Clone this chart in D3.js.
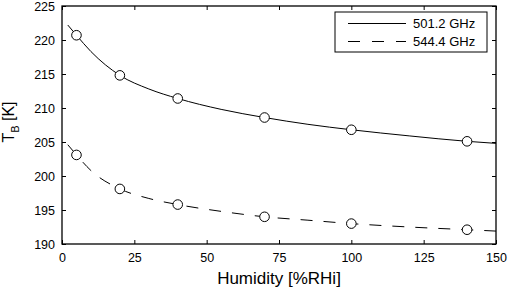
<!DOCTYPE html>
<html>
<head>
<meta charset="utf-8">
<script src="https://cdn.jsdelivr.net/npm/d3@7"></script>
<style>
    body { margin: 0; background: #fff; }
    text { font-family: "Liberation Sans", Arial, sans-serif; fill: #000; }
</style>
</head>
<body>
<svg id="chart" width="508" height="287"></svg>
<script>
'use strict';

var seriesNames = ['501.2 GHz', '544.4 GHz'];
var humidity = [5, 20, 40, 70, 100, 140];
var tb501 = [220.7, 214.8, 211.4, 208.6, 206.8, 205.1];
var tb544 = [203.1, 198.1, 195.8, 194.0, 193.0, 192.1];
// fitted curves
var fitX = [2, 5, 10, 20, 30, 40, 55, 70, 85, 100, 120, 140, 150];
var fit501 = [222.2, 220.7, 218.3, 214.8, 212.8, 211.4, 209.8, 208.6, 207.6, 206.8, 205.9, 205.1, 204.8];
var fit544 = [204.6, 203.1, 200.8, 198.1, 196.7, 195.8, 194.8, 194.0, 193.5, 193.0, 192.5, 192.1, 191.9];
var xTicks = [0, 25, 50, 75, 100, 125, 150];
var yTicks = [190, 195, 200, 205, 210, 215, 220, 225];

var svg = d3.select('#chart');
var PLOT_L = 62, PLOT_R = 496, PLOT_T = 6, PLOT_B = 244;
var TICK = 4;

var x = d3.scaleLinear().domain([0, 150]).range([PLOT_L, PLOT_R]);
var y = d3.scaleLinear().domain([190, 225]).range([PLOT_B, PLOT_T]);

// inward ticks on all four sides
function axis(gen, tx, ty, labels) {
    var g = svg.append('g').attr('transform', 'translate(' + tx + ',' + ty + ')')
        .call(gen);
    g.select('.domain').remove();
    g.selectAll('line').attr('stroke', '#000').attr('stroke-width', 1);
    if (!labels) g.selectAll('text').remove();
    else g.selectAll('text').style('font-size', '12.5px').attr('fill', '#000');
    return g;
}

axis(d3.axisBottom(x).tickValues(xTicks).tickSizeInner(-TICK).tickSizeOuter(0).tickPadding(9), 0, PLOT_B, true);
axis(d3.axisTop(x).tickValues(xTicks).tickSizeInner(-TICK).tickSizeOuter(0), 0, PLOT_T, false);
axis(d3.axisLeft(y).tickValues(yTicks).tickSizeInner(-TICK).tickSizeOuter(0).tickPadding(7), PLOT_L, 0, true);
axis(d3.axisRight(y).tickValues(yTicks).tickSizeInner(-TICK).tickSizeOuter(0), PLOT_R, 0, false);

svg.append('rect').attr('x', PLOT_L).attr('y', PLOT_T)
    .attr('width', PLOT_R - PLOT_L).attr('height', PLOT_B - PLOT_T)
    .attr('fill', 'none').attr('stroke', '#000').attr('stroke-width', 1.3);

var line = d3.line().curve(d3.curveMonotoneX)
    .x(function (d) { return x(d[0]); })
    .y(function (d) { return y(d[1]); });

var dashes = [null, '12,11'];

[fit501, fit544].forEach(function (fit, k) {
    svg.append('path').datum(d3.zip(fitX, fit)).attr('d', line)
        .attr('fill', 'none').attr('stroke', '#000').attr('stroke-width', 1)
        .attr('stroke-dasharray', dashes[k]);
});

[tb501, tb544].forEach(function (vals) {
    svg.append('g').selectAll('circle').data(d3.zip(humidity, vals)).enter()
        .append('circle')
        .attr('cx', function (d) { return x(d[0]); })
        .attr('cy', function (d) { return y(d[1]); })
        .attr('r', 4.8)
        .attr('fill', '#fff').attr('stroke', '#000').attr('stroke-width', 1);
});

// legend
var lg = svg.append('g');
lg.append('rect').attr('x', 335).attr('y', 12).attr('width', 152).attr('height', 40)
    .attr('fill', '#fff').attr('stroke', '#000').attr('stroke-width', 1);
seriesNames.forEach(function (name, k) {
    var ly = 23.5 + k * 18;
    lg.append('line').attr('x1', 348).attr('x2', 406).attr('y1', ly).attr('y2', ly)
        .attr('stroke', '#000').attr('stroke-width', 1)
        .attr('stroke-dasharray', k ? '12,12' : null);
    lg.append('text').attr('x', 413).attr('y', ly + 4.5).style('font-size', '13px').text(name);
});

// axis labels
svg.append('text').attr('x', (PLOT_L + PLOT_R) / 2).attr('y', 284)
    .attr('text-anchor', 'middle').style('font-size', '17px').text('Humidity [%RHi]');

var yl = svg.append('text').attr('transform', 'translate(14,122) rotate(-90)')
    .attr('text-anchor', 'middle').style('font-size', '16px');
yl.append('tspan').text('T');
yl.append('tspan').attr('dy', 5).style('font-size', '11px').text('B');
yl.append('tspan').attr('dy', -5).text(' [K]');
</script>
</body>
</html>
